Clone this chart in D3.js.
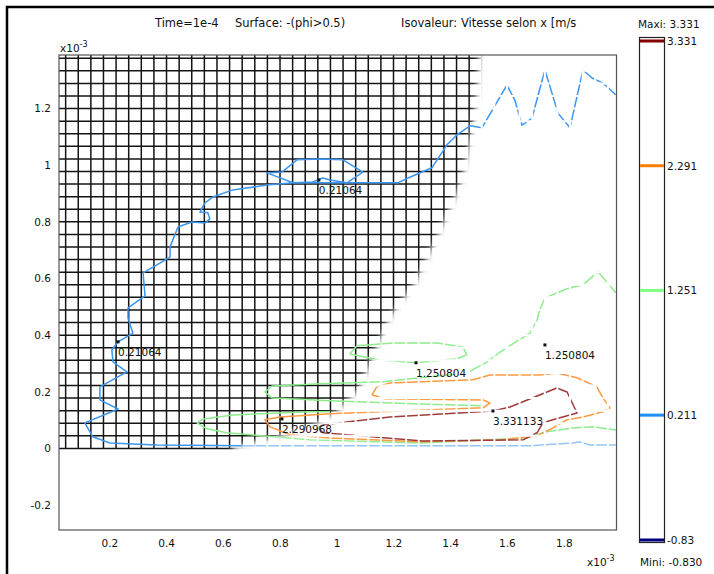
<!DOCTYPE html>
<html>
<head>
<meta charset="utf-8">
<script src="https://cdn.jsdelivr.net/npm/d3@7"></script>
<style>
  body { margin: 0; background: #fff; }
  svg { display: block; }
  text { font-family: "DejaVu Sans", Verdana, sans-serif; font-size: 10.5px; fill: #111; }
  text.title { font-size: 11.5px; }
</style>
</head>
<body>
<div id="viz"></div>
<script>
// axis ticks (x1e-3 m)
const xTicks = [0.2, 0.4, 0.6, 0.8, 1, 1.2, 1.4, 1.6, 1.8];
const yTicks = [-0.2, 0, 0.2, 0.4, 0.6, 0.8, 1, 1.2];

// colour legend
const isoLevels = [-0.83, 0.211, 1.251, 2.291, 3.331];
const isoLabels = ["-0.83", "0.211", "1.251", "2.291", "3.331"];
const isoColors = ["#000080", "#1e8cff", "#80ff80", "#ff8000", "#800000"];
const lineColors = { "0.211": "#3c95ef", "1.251": "#8ded8d", "2.291": "#ff9a40", "3.331": "#a03a3a" };

// mesh of the phi>0.5 surface
const meshStep = 0.0444;
const phiFront = [[0.640, 0], [0.693, 0.012], [0.810, 0.041], [0.929, 0.083], [1.000, 0.125],
  [1.081, 0.206], [1.134, 0.330], [1.186, 0.453], [1.281, 0.584], [1.362, 0.753],
  [1.443, 0.937], [1.479, 1.113], [1.496, 1.229], [1.507, 1.388]];

// isolines, Vitesse selon x
const blueMain = [[1.982, 1.247], [1.936, 1.289], [1.898, 1.307], [1.866, 1.335], [1.820, 1.131],
  [1.778, 1.183], [1.732, 1.335], [1.686, 1.164], [1.651, 1.141], [1.626, 1.229], [1.598, 1.282],
  [1.510, 1.131], [1.468, 1.138], [1.422, 1.106], [1.387, 1.071], [1.334, 0.990], [1.250, 0.954],
  [1.214, 0.937], [0.845, 0.937], [0.753, 0.929], [0.633, 0.912], [0.563, 0.887], [0.535, 0.866],
  [0.517, 0.834], [0.545, 0.831], [0.552, 0.810], [0.535, 0.795], [0.489, 0.799], [0.440, 0.781],
  [0.412, 0.711], [0.412, 0.675], [0.376, 0.654], [0.317, 0.619], [0.324, 0.538], [0.264, 0.496],
  [0.264, 0.460], [0.281, 0.407], [0.229, 0.376], [0.207, 0.347], [0.211, 0.305], [0.260, 0.270],
  [0.165, 0.217], [0.165, 0.171], [0.229, 0.139], [0.112, 0.090], [0.140, 0.041], [0.200, 0.019],
  [0.366, 0.012], [0.669, 0.009]];
const blueIsland = [[0.845, 0.937], [0.753, 0.972], [0.806, 0.975], [0.859, 1.018], [0.940, 1.021],
  [1.021, 1.018], [1.091, 0.975], [1.035, 0.937], [0.975, 0.947], [0.950, 0.954], [0.915, 0.940],
  [0.845, 0.937]];
const blueBottom = [[0.669, 0.009], [1.679, 0.009], [1.831, 0.019], [1.855, 0.023], [1.890, 0.012],
  [1.982, 0.012]];
const greenOuter = [[1.982, 0.549], [1.919, 0.623], [1.866, 0.577], [1.810, 0.563], [1.732, 0.531],
  [1.714, 0.489], [1.704, 0.453], [1.679, 0.407], [1.574, 0.340], [1.528, 0.305], [1.457, 0.266],
  [1.292, 0.249], [1.162, 0.235], [0.940, 0.228], [0.771, 0.220], [0.746, 0.199], [0.771, 0.178],
  [0.975, 0.168], [1.292, 0.157], [1.514, 0.150]];
const greenLoop = [[1.045, 0.333], [1.070, 0.362], [1.197, 0.372], [1.352, 0.372], [1.443, 0.358],
  [1.457, 0.330], [1.422, 0.316], [1.278, 0.302], [1.151, 0.312], [1.045, 0.333]];
const greenLow = [[1.982, 0.065], [1.901, 0.076], [1.831, 0.072], [1.732, 0.058], [1.669, 0.037],
  [1.292, 0.019], [0.905, 0.030], [0.612, 0.055], [0.542, 0.069], [0.507, 0.090], [0.528, 0.104],
  [0.633, 0.118], [0.905, 0.129], [0.975, 0.129]];
const orangeLoop = [[1.123, 0.189], [1.140, 0.217], [1.186, 0.231], [1.479, 0.242], [1.538, 0.259],
  [1.714, 0.259], [1.774, 0.266], [1.845, 0.249], [1.915, 0.217], [1.936, 0.178], [1.961, 0.143],
  [1.936, 0.129], [1.866, 0.111], [1.810, 0.101], [1.760, 0.072], [1.704, 0.044], [1.574, 0.030],
  [1.292, 0.023], [0.975, 0.037], [0.834, 0.048], [0.764, 0.076], [0.746, 0.101], [0.799, 0.111],
  [0.975, 0.122], [1.221, 0.132], [1.514, 0.143], [1.538, 0.160], [1.514, 0.171], [1.169, 0.175],
  [1.123, 0.189]];
const redLoop = [[0.951, 0.083], [1.186, 0.111], [1.549, 0.132], [1.609, 0.146], [1.774, 0.213],
  [1.810, 0.199], [1.845, 0.125], [1.760, 0.101], [1.725, 0.090], [1.704, 0.055], [1.655, 0.030],
  [1.302, 0.026], [0.951, 0.055], [0.933, 0.072], [0.951, 0.083]];

// contour labels
const labelPts = [[0.936, 0.947], [0.229, 0.376], [1.278, 0.302], [1.732, 0.365], [0.806, 0.104], [1.549, 0.132]];
const labelText = ["0.21064", "0.21064", "1.250804", "1.250804", "2.290968", "3.331133"];

const W = 714, H = 574;
const svg = d3.select("#viz").append("svg").attr("width", W).attr("height", H);

// outer frame
svg.append("path").attr("d", `M7,${H}V7H${W}`).attr("fill", "none").attr("stroke", "#000").attr("stroke-width", 2.5);

const x = d3.scaleLinear().domain([0.021, 1.984]).range([59, 616.5]);
const y = d3.scaleLinear().domain([-0.288, 1.388]).range([530, 55]);

const defs = svg.append("defs");
defs.append("clipPath").attr("id", "plotClip").append("rect")
  .attr("x", 59).attr("y", 55).attr("width", 616.5 - 59).attr("height", 530 - 55);
defs.append("filter").attr("id", "soft").attr("x", "-20%").attr("y", "-20%").attr("width", "140%").attr("height", "140%")
  .append("feGaussianBlur").attr("stdDeviation", 3.5);

const phiPoly = [[-0.2, -0.05], [0.62, -0.05], ...phiFront, [1.51, 1.6], [-0.2, 1.6]];
const polyStr = phiPoly.map(p => `${x(p[0])},${y(p[1])}`).join(" ");

const mIn = defs.append("mask").attr("id", "phiIn").attr("maskUnits", "userSpaceOnUse")
  .attr("x", 0).attr("y", 0).attr("width", W).attr("height", H);
mIn.append("polygon").attr("points", polyStr).attr("fill", "#fff").attr("filter", "url(#soft)");
const mOut = defs.append("mask").attr("id", "phiOut").attr("maskUnits", "userSpaceOnUse")
  .attr("x", 0).attr("y", 0).attr("width", W).attr("height", H);
mOut.append("rect").attr("width", W).attr("height", H).attr("fill", "#fff");
mOut.append("polygon").attr("points", polyStr).attr("fill", "#000").attr("filter", "url(#soft)");

const plot = svg.append("g").attr("clip-path", "url(#plotClip)");

const vx = d3.range(0, 46).map(k => k * meshStep);
const hy = d3.range(0, 32).map(k => k * meshStep).filter(v => v <= 1.388);

function drawMesh(g, color, width) {
  g.selectAll("line.v").data(vx).join("line").attr("class", "v")
    .attr("x1", d => x(d)).attr("x2", d => x(d)).attr("y1", y(0)).attr("y2", y(1.388))
    .attr("stroke", color).attr("stroke-width", width);
  g.selectAll("line.h").data(hy).join("line").attr("class", "h")
    .attr("x1", x(0.021)).attr("x2", x(1.984)).attr("y1", d => y(d)).attr("y2", d => y(d))
    .attr("stroke", color).attr("stroke-width", width);
}

// black mesh where phi>0.5
drawMesh(plot.append("g").attr("mask", "url(#phiIn)"), "#141414", 1.5);

// isolines
const line = d3.line().x(d => x(d[0])).y(d => y(d[1]));
const contours = [
  { v: "0.211", pts: blueBottom, op: 0.55 },
  { v: "0.211", pts: blueMain, op: 1 },
  { v: "0.211", pts: blueIsland, op: 1 },
  { v: "1.251", pts: greenOuter, op: 1 },
  { v: "1.251", pts: greenLoop, op: 1 },
  { v: "1.251", pts: greenLow, op: 1 },
  { v: "2.291", pts: orangeLoop, op: 1 },
  { v: "3.331", pts: redLoop, op: 1 }
];
plot.append("g").selectAll("path").data(contours).join("path")
  .attr("d", d => line(d.pts)).attr("fill", "none")
  .attr("stroke", d => lineColors[d.v]).attr("stroke-opacity", d => d.op)
  .attr("stroke-width", 1.5).attr("stroke-linejoin", "round");

// white mesh over the rest
drawMesh(plot.append("g").attr("mask", "url(#phiOut)"), "#fff", 2);

// labels on isolines
const lab = plot.append("g").selectAll("g").data(labelPts).join("g")
  .attr("transform", d => `translate(${x(d[0])},${y(d[1])})`);
lab.append("rect").attr("x", -1.5).attr("y", -1.5).attr("width", 3).attr("height", 3).attr("fill", "#111");
lab.append("text").attr("x", 0).attr("y", 14).text((d, i) => labelText[i]);

// plot frame
svg.append("rect").attr("x", 59).attr("y", 55).attr("width", 616.5 - 59).attr("height", 530 - 55)
  .attr("fill", "none").attr("stroke", "#555").attr("stroke-width", 1.2);

// tick labels
svg.append("g").selectAll("text").data(xTicks).join("text")
  .attr("x", d => x(d)).attr("y", 547).attr("text-anchor", "middle").text(d => d);
svg.append("g").selectAll("text").data(yTicks).join("text")
  .attr("x", 51).attr("y", d => y(d) + 4).attr("text-anchor", "end").text(d => d);

function expLabel(px, py) {
  const t = svg.append("text").attr("x", px).attr("y", py);
  t.append("tspan").text("x10");
  t.append("tspan").attr("dy", -5).style("font-size", "8px").text("-3");
}
expLabel(60, 52);
expLabel(587, 566);

// title
svg.append("text").attr("class", "title").attr("x", 155).attr("y", 27).text("Time=1e-4");
svg.append("text").attr("class", "title").attr("x", 235).attr("y", 27).text("Surface: -(phi>0.5)");
svg.append("text").attr("class", "title").attr("x", 401).attr("y", 27).text("Isovaleur: Vitesse selon x [m/s");

// colour legend
const cb = d3.scaleLinear().domain([-0.83, 3.331]).range([540, 41]);
svg.append("rect").attr("x", 639.5).attr("y", 37.5).attr("width", 25).attr("height", 505)
  .attr("fill", "#fff").attr("stroke", "#222").attr("stroke-width", 1.2);
svg.append("g").selectAll("line").data(isoLevels).join("line")
  .attr("x1", 640).attr("x2", 664).attr("y1", d => cb(d)).attr("y2", d => cb(d))
  .attr("stroke", (d, i) => isoColors[i]).attr("stroke-width", 3);
svg.append("g").selectAll("text").data(isoLevels).join("text")
  .attr("x", 667).attr("y", d => cb(d) + 4).text((d, i) => isoLabels[i]);
svg.append("text").attr("x", 638).attr("y", 28).text("Maxi: 3.331");
svg.append("text").attr("x", 640).attr("y", 566).text("Mini: -0.830");
</script>
</body>
</html>
